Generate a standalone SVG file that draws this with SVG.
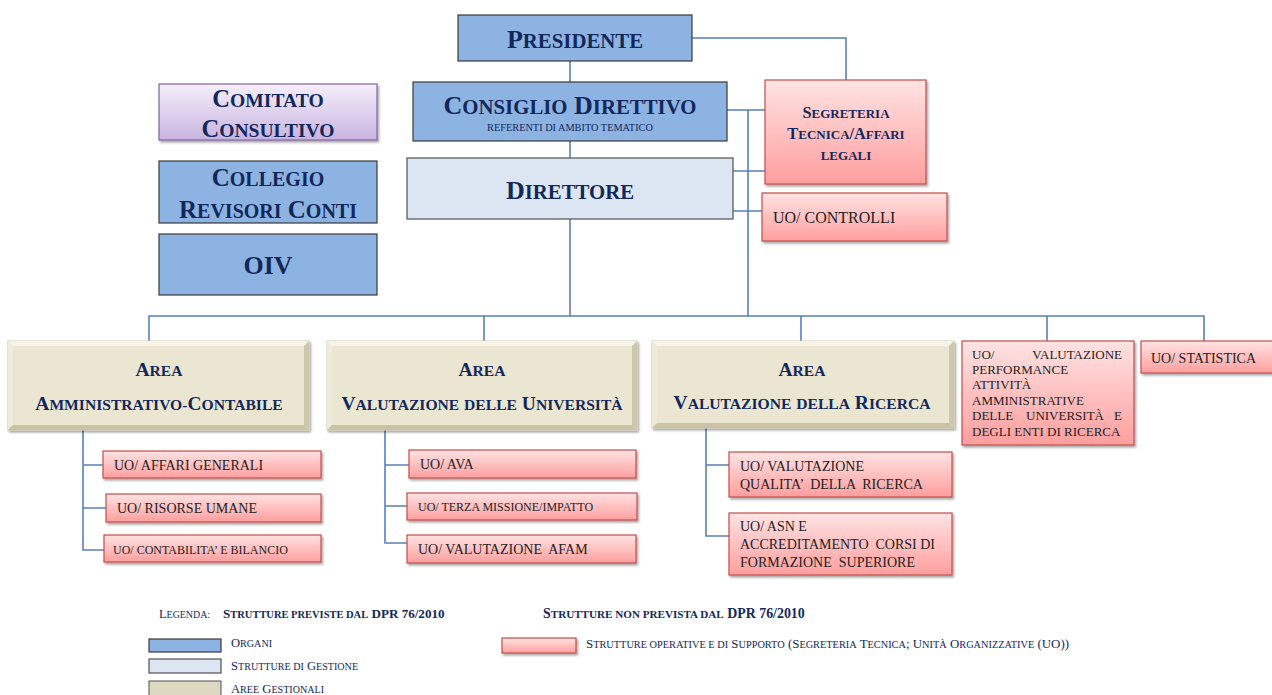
<svg xmlns="http://www.w3.org/2000/svg" width="1272" height="695" viewBox="0 0 1272 695">
<defs>
<linearGradient id="gPink" x1="0" y1="0" x2="0" y2="1">
<stop offset="0" stop-color="#FFE3E3"/><stop offset="1" stop-color="#FF9E9E"/>
</linearGradient>
<linearGradient id="gLav" x1="0" y1="0" x2="0" y2="1">
<stop offset="0" stop-color="#F5EEFA"/><stop offset="1" stop-color="#C8B4E0"/>
</linearGradient>
<filter id="sh" x="-5%" y="-5%" width="115%" height="130%">
<feDropShadow dx="1.5" dy="2" stdDeviation="1.2" flood-color="#000" flood-opacity="0.35"/>
</filter>
<style>
.t{font-family:"Liberation Serif","Times New Roman",serif;fill:#13285A;}
.b{font-weight:bold;}
.s{font-size:0.8em;}
.r{font-family:"Liberation Serif","Times New Roman",serif;fill:#222;}
.blue{fill:#8DB3E2;stroke:#3A3A3A;stroke-width:1.2;}
.lblue{fill:#DCE6F2;stroke:#505050;stroke-width:1.2;}
.pink{fill:url(#gPink);stroke:#C0504D;stroke-width:1.2;filter:url(#sh);}
.lav{fill:url(#gLav);stroke:#8064A2;stroke-width:1.2;filter:url(#sh);}
.bg{fill:#EBE6D2;stroke:#CFC8AE;stroke-width:1;filter:url(#sh);}
.bt{fill:#F6F3E8;}
.bl{fill:#EFEBDB;}
.br{fill:#CEC7AB;}
.bb{fill:#C9C2A5;}
.c{fill:none;stroke:#5A80B8;stroke-width:1.6;}
</style>
</defs>
<rect width="1272" height="695" fill="#fff"/>

<g id="connectors">
<path class="c" d="M570,61 V82 M570,141 V158 M692,38 H846 V80 M727,110 H765 M733,171 H765 M733,211 H762 M748,110 V316 M570,219 V316 M149,341 V316 H1204 V341 M484,316 V341 M801,316 V341 M1047,316 V341"/>
<path class="c" d="M83,430 V550 H104 M83,465 H103 M83,508 H106"/>
<path class="c" d="M385,430 V543 H407 M385,465 H409 M385,506 H407"/>
<path class="c" d="M706,428 V536 H729 M706,465 H729"/>
</g>

<g id="presidente">
<rect class="blue" x="458" y="15" width="234" height="46"/>
<text class="t b" x="575" y="48" font-size="26" text-anchor="middle">P<tspan class="s">RESIDENTE</tspan></text>
</g>
<g id="consiglio">
<rect class="blue" x="413" y="82" width="314" height="59"/>
<text class="t b" x="570" y="114" font-size="26" text-anchor="middle">C<tspan class="s">ONSIGLIO</tspan> D<tspan class="s">IRETTIVO</tspan></text>
<text class="t" x="570" y="131" font-size="10.3" text-anchor="middle">REFERENTI DI AMBITO TEMATICO</text>
</g>
<g id="direttore">
<rect class="lblue" x="407" y="158" width="326" height="61"/>
<text class="t b" x="570" y="199" font-size="26" text-anchor="middle">D<tspan class="s">IRETTORE</tspan></text>
</g>
<g id="segreteria">
<rect class="pink" x="765" y="80" width="161" height="104"/>
<text class="t b" x="846" y="118" font-size="16.3" text-anchor="middle">S<tspan class="s">EGRETERIA</tspan></text>
<text class="t b" x="846" y="139" font-size="16.3" text-anchor="middle">T<tspan class="s">ECNICA</tspan>/A<tspan class="s">FFARI</tspan></text>
<text class="t b" x="846" y="160" font-size="16.3" text-anchor="middle"><tspan class="s">LEGALI</tspan></text>
</g>
<g id="controlli">
<rect class="pink" x="762" y="193" width="185" height="48"/>
<text class="r" x="773" y="223" font-size="16">UO/ CONTROLLI</text>
</g>
<g id="comitato">
<rect class="lav" x="159" y="84" width="218" height="56"/>
<text class="t b" x="268" y="107" font-size="24.5" text-anchor="middle">C<tspan class="s">OMITATO</tspan></text>
<text class="t b" x="268" y="137" font-size="24.5" text-anchor="middle">C<tspan class="s">ONSULTIVO</tspan></text>
</g>
<g id="collegio">
<rect class="blue" x="159" y="161" width="218" height="62"/>
<text class="t b" x="268" y="186" font-size="25" text-anchor="middle">C<tspan class="s">OLLEGIO</tspan></text>
<text class="t b" x="268" y="218" font-size="25" text-anchor="middle">R<tspan class="s">EVISORI</tspan> C<tspan class="s">ONTI</tspan></text>
</g>
<g id="oiv">
<rect class="blue" x="159" y="234" width="218" height="61"/>
<text class="t b" x="268" y="274" font-size="26" text-anchor="middle">OIV</text>
</g>

<g id="area-amm">
<rect class="bg" x="8" y="341" width="301" height="89"/>
<polygon class="bt" points="8,341 309,341 304,346 13,346"/>
<polygon class="bl" points="8,341 13,346 13,425 8,430"/>
<polygon class="br" points="309,341 309,430 304,425 304,346"/>
<polygon class="bb" points="8,430 13,425 304,425 309,430"/>
<text class="t b" x="159" y="376" font-size="19.5" text-anchor="middle">A<tspan class="s">REA</tspan></text>
<text class="t b" x="159" y="410" font-size="19.5" text-anchor="middle">A<tspan class="s">MMINISTRATIVO-</tspan>C<tspan class="s">ONTABILE</tspan></text>
</g>
<g id="area-univ">
<rect class="bg" x="327" y="341" width="310" height="89"/>
<polygon class="bt" points="327,341 637,341 632,346 332,346"/>
<polygon class="bl" points="327,341 332,346 332,425 327,430"/>
<polygon class="br" points="637,341 637,430 632,425 632,346"/>
<polygon class="bb" points="327,430 332,425 632,425 637,430"/>
<text class="t b" x="482" y="376" font-size="19.5" text-anchor="middle">A<tspan class="s">REA</tspan></text>
<text class="t b" x="482" y="410" font-size="19.5" text-anchor="middle">V<tspan class="s">ALUTAZIONE</tspan> <tspan class="s">DELLE</tspan> U<tspan class="s">NIVERSITÀ</tspan></text>
</g>
<g id="area-ricerca">
<rect class="bg" x="652" y="341" width="302" height="87"/>
<polygon class="bt" points="652,341 954,341 949,346 657,346"/>
<polygon class="bl" points="652,341 657,346 657,423 652,428"/>
<polygon class="br" points="954,341 954,428 949,423 949,346"/>
<polygon class="bb" points="652,428 657,423 949,423 954,428"/>
<text class="t b" x="802" y="376" font-size="19.5" text-anchor="middle">A<tspan class="s">REA</tspan></text>
<text class="t b" x="802" y="409" font-size="19.5" text-anchor="middle">V<tspan class="s">ALUTAZIONE</tspan> <tspan class="s">DELLA</tspan> R<tspan class="s">ICERCA</tspan></text>
</g>
<g id="uo-performance">
<rect class="pink" x="962" y="341" width="172" height="104"/>
<text class="r" font-size="13"><tspan x="972" y="359">UO/</tspan><tspan x="1122" y="359" text-anchor="end">VALUTAZIONE</tspan><tspan x="972" y="374">PERFORMANCE</tspan><tspan x="972" y="389">ATTIVITÀ</tspan><tspan x="972" y="405">AMMINISTRATIVE</tspan><tspan x="972" y="420">DELLE</tspan><tspan x="1104" y="420" text-anchor="end">UNIVERSITÀ</tspan><tspan x="1122" y="420" text-anchor="end">E</tspan><tspan x="972" y="436">DEGLI ENTI DI RICERCA</tspan></text>
</g>
<g id="uo-statistica">
<rect class="pink" x="1141" y="341" width="135" height="32"/>
<text class="r" x="1151" y="363" font-size="14">UO/ STATISTICA</text>
</g>

<g id="uo-affari">
<rect class="pink" x="103" y="451" width="218" height="27"/>
<text class="r" x="114" y="470" font-size="14">UO/ AFFARI GENERALI</text>
</g>
<g id="uo-risorse">
<rect class="pink" x="106" y="494" width="215" height="28"/>
<text class="r" x="117" y="513" font-size="14">UO/ RISORSE UMANE</text>
</g>
<g id="uo-contabilita">
<rect class="pink" x="104" y="535" width="217" height="27"/>
<text class="r" x="113" y="554" font-size="12">UO/ CONTABILITA’ E BILANCIO</text>
</g>
<g id="uo-ava">
<rect class="pink" x="409" y="450" width="227" height="28"/>
<text class="r" x="420" y="469" font-size="14">UO/ AVA</text>
</g>
<g id="uo-terza">
<rect class="pink" x="407" y="493" width="230" height="27"/>
<text class="r" x="418" y="511" font-size="12">UO/ TERZA MISSIONE/IMPATTO</text>
</g>
<g id="uo-afam">
<rect class="pink" x="407" y="535" width="229" height="28"/>
<text class="r" x="418" y="554" font-size="14" xml:space="preserve">UO/ VALUTAZIONE  AFAM</text>
</g>
<g id="uo-qualita">
<rect class="pink" x="729" y="452" width="223" height="45"/>
<text class="r" font-size="14" xml:space="preserve"><tspan x="740" y="471">UO/ VALUTAZIONE</tspan><tspan x="740" y="489">QUALITA’  DELLA  RICERCA</tspan></text>
</g>
<g id="uo-asn">
<rect class="pink" x="729" y="513" width="223" height="62"/>
<text class="r" font-size="14" xml:space="preserve"><tspan x="740" y="531">UO/ ASN E</tspan><tspan x="740" y="549">ACCREDITAMENTO  CORSI DI</tspan><tspan x="740" y="567">FORMAZIONE  SUPERIORE</tspan></text>
</g>

<g id="legend">
<text class="t" x="159" y="618" font-size="12.4">L<tspan class="s">EGENDA:</tspan></text>
<text class="t b" x="223" y="618" font-size="13.1">S<tspan class="s">TRUTTURE PREVISTE DAL</tspan> DPR 76/2010</text>
<text class="t b" x="543" y="618" font-size="13.9">S<tspan class="s">TRUTTURE NON PREVISTA DAL</tspan> DPR 76/2010</text>
<rect class="blue" x="149" y="639" width="72" height="13" stroke-width="1"/>
<text class="t" x="231" y="647" font-size="12.6">O<tspan class="s">RGANI</tspan></text>
<rect class="lblue" x="149" y="659" width="72" height="14" stroke-width="1"/>
<text class="t" x="231" y="670" font-size="12.6">S<tspan class="s">TRUTTURE DI</tspan> G<tspan class="s">ESTIONE</tspan></text>
<rect fill="#DDD8C2" stroke="#505050" stroke-width="1" x="149" y="681" width="72" height="16"/>
<text class="t" x="231" y="693" font-size="12.6">A<tspan class="s">REE</tspan> G<tspan class="s">ESTIONALI</tspan></text>
<rect class="pink" x="502" y="638" width="74" height="15"/>
<text class="t" x="586" y="648" font-size="12.9">S<tspan class="s">TRUTTURE OPERATIVE E DI</tspan> S<tspan class="s">UPPORTO</tspan> (S<tspan class="s">EGRETERIA</tspan> T<tspan class="s">ECNICA</tspan>; U<tspan class="s">NITÀ</tspan> O<tspan class="s">RGANIZZATIVE</tspan> (UO))</text>
</g>
</svg>
